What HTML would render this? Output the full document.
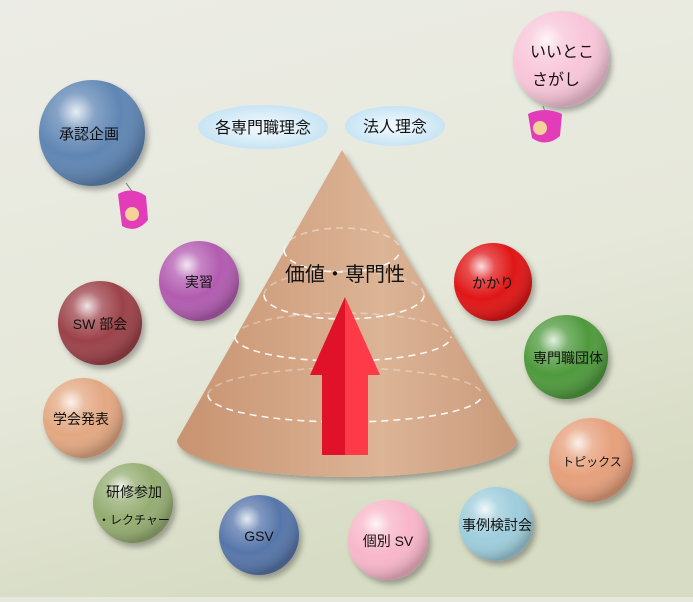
<!DOCTYPE html>
<html><head><meta charset="utf-8"><style>
html,body{margin:0;padding:0;}
body{width:693px;height:597px;overflow:hidden;background:#e6e8dc;}
text{font-family:"Liberation Sans","Noto Sans CJK JP",sans-serif;fill:#111;}
</style></head><body>
<svg width="693" height="597" viewBox="0 0 693 597" xmlns="http://www.w3.org/2000/svg">
<defs>
<linearGradient id="bg" x1="0" y1="0" x2="0.3" y2="1">
<stop offset="0" stop-color="#ecece6"/><stop offset="0.6" stop-color="#e6e8da"/><stop offset="1" stop-color="#d7dcc4"/></linearGradient>
<linearGradient id="cone" x1="0" y1="0" x2="1" y2="0">
<stop offset="0" stop-color="#c89370"/><stop offset="0.6" stop-color="#dcb496"/><stop offset="1" stop-color="#c99a7a"/></linearGradient>
<radialGradient id="hl" cx="0.35" cy="0.3" r="0.7">
<stop offset="0" stop-color="#fff" stop-opacity="0.85"/><stop offset="0.25" stop-color="#fff" stop-opacity="0.25"/><stop offset="0.6" stop-color="#fff" stop-opacity="0"/><stop offset="1" stop-color="#000" stop-opacity="0.2"/></radialGradient>
<radialGradient id="elg" cx="0.5" cy="0.5" r="0.5">
<stop offset="0" stop-color="#f4fbff"/><stop offset="1" stop-color="#c8e4f4"/></radialGradient>
<filter id="sh" x="-30%" y="-30%" width="160%" height="160%"><feDropShadow dx="3" dy="4" stdDeviation="3" flood-color="#000" flood-opacity="0.3"/></filter>
</defs>
<rect width="693" height="597" fill="url(#bg)"/>
<ellipse cx="263" cy="127" rx="65" ry="22" fill="url(#elg)"/>
<ellipse cx="395" cy="126" rx="50" ry="20" fill="url(#elg)"/>
<text x="263" y="133" font-size="16" text-anchor="middle">各専門職理念</text>
<text x="395" y="132" font-size="16" text-anchor="middle">法人理念</text>
<g filter="url(#sh)">
<path d="M342 150 L177 440 A170 37 0 0 0 517 440 Z" fill="url(#cone)"/>
</g>
<g fill="none" stroke="#fff" stroke-width="1.6" stroke-dasharray="7 5">
<path d="M284 250 A58 22 0 0 0 400 250" opacity="0.9"/>
<path d="M284 250 A58 22 0 0 1 400 250" opacity="0.4"/>
<path d="M264 295 A80 24 0 0 0 424 295" opacity="0.9"/>
<path d="M264 295 A80 24 0 0 1 424 295" opacity="0.35"/>
<path d="M235 337 A108 24 0 0 0 451 337" opacity="0.9"/>
<path d="M235 337 A108 24 0 0 1 451 337" opacity="0.35"/>
<path d="M208 395 A137 27 0 0 0 482 395" opacity="0.9"/>
<path d="M208 395 A137 27 0 0 1 482 395" opacity="0.35"/>
</g>
<text x="345" y="281" font-size="20" text-anchor="middle">価値・専門性</text>
<path d="M345 297 L380 375 L368 375 L368 455 L345 455 Z" fill="#ff3a48"/>
<path d="M345 297 L310 375 L322 375 L322 455 L345 455 Z" fill="#e0122a"/>
<g filter="url(#sh)">
<circle cx="92" cy="133" r="53" fill="#5f86b4"/>
<circle cx="561" cy="59" r="48" fill="#f8c6d8"/>
<circle cx="199" cy="281" r="40" fill="#b25cb0"/>
<circle cx="100" cy="323" r="42" fill="#9c4248"/>
<circle cx="83" cy="418" r="40" fill="#e3a882"/>
<circle cx="133" cy="503" r="40" fill="#95ad72"/>
<circle cx="259" cy="535" r="40" fill="#5676aa"/>
<circle cx="388" cy="540" r="40" fill="#f8b6ca"/>
<circle cx="496" cy="524" r="37" fill="#9ecddc"/>
<circle cx="591" cy="460" r="42" fill="#e6a07c"/>
<circle cx="566" cy="357" r="42" fill="#4f9a3c"/>
<circle cx="493" cy="282" r="39" fill="#e01818"/>
</g>
<g fill="url(#hl)">
<circle cx="92" cy="133" r="53"/><circle cx="561" cy="59" r="48"/><circle cx="199" cy="281" r="40"/>
<circle cx="100" cy="323" r="42"/><circle cx="83" cy="418" r="40"/><circle cx="133" cy="503" r="40"/>
<circle cx="259" cy="535" r="40"/><circle cx="388" cy="540" r="40"/><circle cx="496" cy="524" r="37"/>
<circle cx="591" cy="460" r="42"/><circle cx="566" cy="357" r="42"/><circle cx="493" cy="282" r="39"/>
</g>
<g font-size="14" text-anchor="middle">
<text x="89" y="139" font-size="15">承認企画</text>
<text x="562" y="57" font-size="16">いいとこ</text>
<text x="556" y="85" font-size="16">さがし</text>
<text x="199" y="287">実習</text>
<text x="100" y="329">SW 部会</text>
<text x="81" y="424">学会発表</text>
<text x="134" y="497">研修参加</text>
<text x="134" y="524" font-size="12">・レクチャー</text>
<text x="259" y="541">GSV</text>
<text x="388" y="546">個別 SV</text>
<text x="497" y="530">事例検討会</text>
<text x="592" y="466" font-size="12">トピックス</text>
<text x="568" y="363">専門職団体</text>
<text x="493" y="288">かかり</text>
</g>
<g>
<line x1="126" y1="183" x2="134" y2="194" stroke="#777"/>
<path d="M118 194 Q132 186 146 196 L148 220 Q136 234 122 226 Z" fill="#e23cb8"/>
<circle cx="132" cy="214" r="7" fill="#f4d29a"/>
<line x1="543" y1="106" x2="546" y2="114" stroke="#777"/>
<path d="M528 114 Q544 106 562 114 L560 136 Q546 148 532 138 Z" fill="#e23cb8"/>
<circle cx="540" cy="128" r="7" fill="#f4d29a"/>
</g>
</svg>
</body></html>
